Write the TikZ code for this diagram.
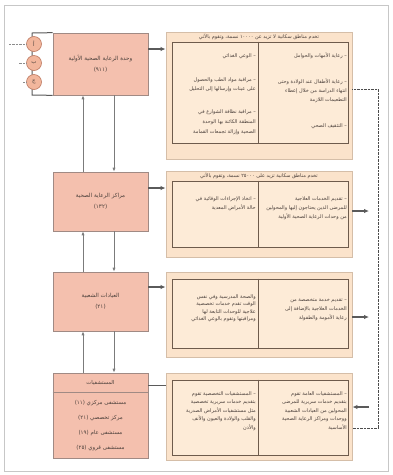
\documentclass[tikz,border=0pt]{standalone}
\usepackage{fontspec}
\usetikzlibrary{arrows.meta}
\TeXXeTstate=1
\newfontfamily\arabicfont[Script=Arabic]{DejaVu Sans}
\newcommand\AR[1]{\beginR #1\endR}
\definecolor{boxfill}{HTML}{F4C0AE}
\definecolor{boxdraw}{HTML}{A08A84}
\definecolor{pfill}{HTML}{FBE3CB}
\definecolor{pdraw}{HTML}{D5BEA8}
\definecolor{ifill}{HTML}{FDEBD7}
\definecolor{idraw}{HTML}{6E5B4C}
\definecolor{cfill}{HTML}{F2B69C}
\definecolor{cdraw}{HTML}{BE7A62}
\definecolor{txt}{HTML}{4A3F3A}
\definecolor{arr}{HTML}{5A5A5A}
\tikzset{
  leftbox/.style={draw=boxdraw, line width=0.7pt, fill=boxfill, inner sep=0pt,
    text=txt, font=\arabicfont\fontsize{5.6}{11}\selectfont, align=center},
  outerpanel/.style={draw=pdraw, line width=0.9pt, fill=pfill, inner sep=0pt},
  innerpanel/.style={draw=idraw, line width=0.6pt, fill=ifill, inner sep=0pt},
  coltext/.style={inner sep=0pt, text=txt, align=right, font=\arabicfont\fontsize{5}{9}\selectfont},
  headtext/.style={inner sep=0pt, text=txt, font=\arabicfont\fontsize{5}{9}\selectfont},
  circ/.style={circle, draw=cdraw, fill=cfill, line width=0.6pt, minimum size=15pt, inner sep=0pt,
    text=txt, font=\arabicfont\fontsize{5.5}{6}\selectfont},
  vconn/.style={draw=arr!80, line width=0.9pt, -{Latex[length=4pt,width=3.2pt]}},
  hconn/.style={draw=arr, line width=1.3pt, -{Latex[length=5pt,width=4.5pt]}},
  plainconn/.style={draw=arr, line width=1pt},
  dotline/.style={draw=black!70, line width=1pt, dash pattern=on 0.7pt off 0.7pt},
  divider/.style={draw=idraw, line width=0.6pt}
}
\begin{document}
\begin{tikzpicture}[x=1pt,y=-1pt]
\useasboundingbox (0,0) rectangle (392,475);
\fill[white] (0,0) rectangle (392,475);
\draw[black!22, line width=0.6pt] (4,5) rectangle (388,471);

% ---------- left boxes ----------
\node[leftbox, minimum width=95pt, minimum height=62pt] (b1) at (100.5,64)
  {\AR{وحدة الرعاية الصحية الأولية}\\\AR{(٩١١)}};
\node[leftbox, minimum width=95pt, minimum height=59pt] (b2) at (100.5,201.5)
  {\AR{مراكز الرعاية الصحية}\\\AR{(١٣٢)}};
\node[leftbox, minimum width=95pt, minimum height=59pt] (b3) at (100.5,301.5)
  {\AR{العيادات الشعبية}\\\AR{(٢١)}};
\node[leftbox, minimum width=95pt, minimum height=85pt] (b4) at (100.5,415.5) {};
\node[headtext, font=\arabicfont\fontsize{5.3}{9}\selectfont] (b4h) at (100.5,383) {\AR{المستشفيات}};
\draw[boxdraw, line width=0.6pt] (b4.west |- 0,392) -- (b4.east |- 0,392);
\node[headtext, font=\arabicfont\fontsize{5.5}{9}\selectfont] (b4a) at (100.5,403) {\AR{مستشفى مركزي (١١)}};
\node[headtext, font=\arabicfont\fontsize{5.5}{9}\selectfont] (b4b) at (100.5,418) {\AR{مركز تخصصي (٢١)}};
\node[headtext, font=\arabicfont\fontsize{5.5}{9}\selectfont] (b4c) at (100.5,433) {\AR{مستشفى عام (١٩)}};
\node[headtext, font=\arabicfont\fontsize{5.5}{9}\selectfont] (b4d) at (100.5,448) {\AR{مستشفى قروي (٢٥)}};

% ---------- bracket and circles ----------
\draw[arr, line width=1pt] (b1.north west) -- (32,33) -- (32,95) -- (b1.south west);
\node[circ] (c1) at (34,44) {\AR{أ}};
\node[circ] (c2) at (34,63) {\AR{ب}};
\node[circ] (c3) at (34,82) {\AR{ج}};
\draw[dotline, black!45] (c1.west) -- ++(-17,0);
\draw[dotline, black!45] (c2.west) -- ++(-8,0);
\draw[dotline, black!45] (c3.west) -- ++(-3,0);

% ---------- panels ----------
% panel 1
\node[outerpanel, minimum width=186pt, minimum height=127pt] (p1) at (259,95.5) {};
\node[innerpanel, minimum width=176pt, minimum height=101pt] (i1) at (260,92.5) {};
\draw[divider] (i1.north -| 258,0) -- (i1.south -| 258,0);
\node[headtext] (h1) at (259,37) {\AR{تخدم مناطق سكانية لا تزيد عن ١٠٠٠٠ نسمة، وتقوم بالآتي}};
\node[coltext, anchor=north east] (t1a) at (347,53)
  {\AR{– رعاية الأمهات والحوامل}};
\node[coltext, anchor=north east] (t1b) at (347,79)
  {\AR{– رعاية الأطفال عند الولادة وحتى}\\\AR{انتهاء الدراسة من خلال إعطاء}\\\AR{التطعيمات اللازمة}};
\node[coltext, anchor=north east] (t1c) at (347,123)
  {\AR{– التثقيف الصحي}};
\node[coltext, anchor=north east] (t1d) at (256,53)
  {\AR{– الوعي الغذائي}};
\node[coltext, anchor=north east] (t1e) at (256,77)
  {\AR{– مراقبة مواد الطب والحصول}\\\AR{على عينات وإرسالها إلى التحليل}};
\node[coltext, anchor=north east] (t1f) at (256,109)
  {\AR{– مراقبة نظافة الشوارع في}\\[1pt]\AR{المنطقة الكائنة بها الوحدة}\\[1pt]\AR{الصحية وإزالة تجمعات القمامة}};

% panel 2
\node[outerpanel, minimum width=186pt, minimum height=86pt] (p2) at (259,214) {};
\node[innerpanel, minimum width=176pt, minimum height=66pt] (i2) at (260,214) {};
\draw[divider] (i2.north -| 258,0) -- (i2.south -| 258,0);
\node[headtext] (h2) at (259,176) {\AR{تخدم مناطق سكانية تزيد على ٢٥٠٠٠ نسمة، وتقوم بالآتي}};
\node[coltext, anchor=north east] (t2a) at (347,196)
  {\AR{– تقديم الخدمات العلاجية}\\\AR{للمرضى الذين يحتاجون إليها والمحولين}\\\AR{من وحدات الرعاية الصحية الأولية}};
\node[coltext, anchor=north east] (t2b) at (256,196)
  {\AR{– اتخاذ الإجراءات الوقائية في}\\\AR{حالة الأمراض المعدية}};

% panel 3
\node[outerpanel, minimum width=186pt, minimum height=85pt] (p3) at (259,314.5) {};
\node[innerpanel, minimum width=176pt, minimum height=69pt] (i3) at (260,313.5) {};
\draw[divider] (i3.north -| 258,0) -- (i3.south -| 258,0);
\node[coltext, anchor=north east] (t3a) at (347,298)
  {\AR{– تقديم خدمة متخصصة من}\\\AR{الخدمات العلاجية بالإضافة إلى}\\\AR{رعاية الأمومة والطفولة}};
\node[coltext, anchor=north east, font=\arabicfont\fontsize{5}{7.6}\selectfont] (t3b) at (256,294)
  {\AR{والصحة المدرسية وفي نفس}\\\AR{الوقت تقدم خدمات تخصصية}\\\AR{علاجية للوحدات التابعة لها}\\\AR{ومراقبتها وتقوم بالوعي الغذائي}};

% panel 4
\node[outerpanel, minimum width=186pt, minimum height=87pt] (p4) at (259,416.5) {};
\node[innerpanel, minimum width=176pt, minimum height=75pt] (i4) at (260,417.5) {};
\draw[divider] (i4.north -| 258,0) -- (i4.south -| 258,0);
\node[coltext, anchor=north east, font=\arabicfont\fontsize{5}{8.5}\selectfont] (t4a) at (347,391)
  {\AR{– المستشفيات العامة تقوم}\\\AR{بتقديم خدمات سريرية للمرضى}\\\AR{المحولين من العيادات الشعبية}\\\AR{ووحدات ومراكز الرعاية الصحية}\\\AR{الأساسية}};
\node[coltext, anchor=north east, font=\arabicfont\fontsize{5}{8.5}\selectfont] (t4b) at (256,391)
  {\AR{– المستشفيات التخصصية تقوم}\\\AR{بتقديم خدمات سريرية تخصصية}\\\AR{مثل مستشفيات الأمراض الصدرية}\\\AR{والقلب والولادة والعيون والأنف}\\\AR{والأذن}};

% ---------- connectors ----------
\draw[hconn] (b1.east |- 0,49) -- (p1.west |- 0,49);
\draw[hconn] (b2.east |- 0,188) -- (p2.west |- 0,188);
\draw[hconn] (b3.east |- 0,287) -- (p3.west |- 0,287);
\draw[plainconn] (b4.east |- 0,385) -- (p4.west |- 0,385);

\draw[vconn] (b2.north -| 83,0) -- (b1.south -| 83,0);
\draw[vconn] (b1.south -| 114,0) -- (b2.north -| 114,0);
\draw[vconn] (b3.north -| 83,0) -- (b2.south -| 83,0);
\draw[vconn] (b2.south -| 114,0) -- (b3.north -| 114,0);
\draw[vconn] (b4.north -| 83,0) -- (b3.south -| 83,0);
\draw[vconn] (b3.south -| 114,0) -- (b4.north -| 114,0);

\coordinate (dtop) at (378,89);
\coordinate (dbot) at (378,428);
\draw[dotline] (p1.east |- dtop) -- (dtop) -- (dbot) -- (p4.east |- dbot);

\coordinate (e2) at (369,211);
\coordinate (e3) at (369,317);
\coordinate (e4) at (369,407);
\draw[hconn] (p2.east |- e2) -- (e2);
\draw[hconn] (p3.east |- e3) -- (e3);
\draw[hconn] (e4) -- (p4.east |- e4);
\end{tikzpicture}
\end{document}
